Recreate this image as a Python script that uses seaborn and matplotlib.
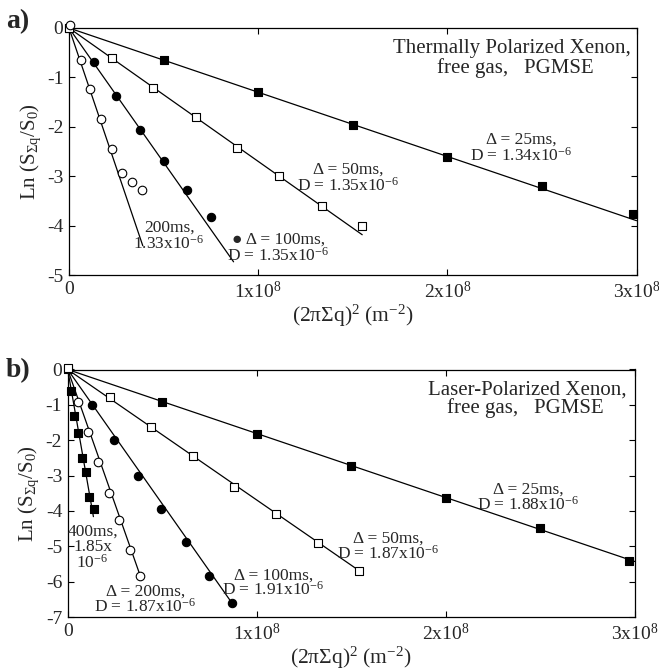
import numpy as np
import pandas as pd
import matplotlib
matplotlib.use("Agg")
import matplotlib.pyplot as plt
import seaborn as sns

# ---------------- data (x in units of 1e8 m^-2) ----------------
X_UNIT = 1e8

# Panel a : thermally polarized xenon
a_25_x = [0, 0.5, 1.0, 1.5, 2.0, 2.5, 2.98]
a_25_y = [0, -0.65, -1.30, -1.96, -2.62, -3.19, -3.76]
a_50_x = [0, 0.225, 0.445, 0.67, 0.888, 1.11, 1.335, 1.55]
a_50_y = [0, -0.60, -1.21, -1.80, -2.43, -3.00, -3.60, -4.01]
a_100_x = [0.13, 0.25, 0.375, 0.5, 0.626, 0.75]
a_100_y = [-0.69, -1.38, -2.07, -2.69, -3.28, -3.83]
a_200_x = [0.005, 0.062, 0.111, 0.168, 0.226, 0.279, 0.332, 0.385]
a_200_y = [0.06, -0.65, -1.24, -1.85, -2.44, -2.93, -3.11, -3.28]
a_fit_slope = [-1.30, -2.70, -5.44, -11.3]
a_fit_xmax = [3.0, 1.55, 0.87, 0.39]

# Panel b : laser polarized xenon
b_25_x = [0, 0.5, 1.0, 1.5, 2.0, 2.5, 2.97]
b_25_y = [0, -0.92, -1.83, -2.72, -3.64, -4.49, -5.41]
b_50_x = [0, 0.224, 0.441, 0.661, 0.881, 1.102, 1.326, 1.543]
b_50_y = [0.03, -0.785, -1.64, -2.46, -3.31, -4.10, -4.90, -5.69]
b_100_x = [0.127, 0.247, 0.372, 0.495, 0.626, 0.748, 0.868]
b_100_y = [-0.99, -2.00, -3.01, -3.95, -4.87, -5.85, -6.60]
b_200_x = [0.055, 0.106, 0.16, 0.216, 0.272, 0.331, 0.383]
b_200_y = [-0.91, -1.77, -2.63, -3.48, -4.26, -5.10, -5.83]
b_400_x = [0.016, 0.033, 0.056, 0.077, 0.097, 0.113, 0.139]
b_400_y = [-0.615, -1.32, -1.80, -2.50, -2.90, -3.60, -3.94]
b_fit_slope = [-1.81, -3.69, -7.6, -15.2, -30.6]
b_fit_xmax = [3.0, 1.543, 0.868, 0.383, 0.136]

x_tick_vals = [0, 1, 2, 3]
x_tick_labels = ["0", "1x10$^8$", "2x10$^8$", "3x10$^8$"]
a_y_ticks = [0, -1, -2, -3, -4, -5]
b_y_ticks = [0, -1, -2, -3, -4, -5, -6, -7]

# ---------------- style ----------------
sns.set_style("ticks")
SERIF = ["Liberation Serif", "DejaVu Serif"]
plt.rcParams["font.family"] = SERIF
plt.rcParams["mathtext.fontset"] = "custom"
plt.rcParams["mathtext.rm"] = "Liberation Serif"
plt.rcParams["mathtext.it"] = "Liberation Serif"
plt.rcParams["mathtext.default"] = "regular"
plt.rcParams["axes.unicode_minus"] = False

TICK_FS = 14
TXT_FS = 12.5
TITLE_FS = 15
YLAB_FS = 15
XLAB_FS = 15.5

fig = plt.figure(figsize=(6.59, 6.72), dpi=100)
W, H = 659, 672
ax_a = fig.add_axes([69 / W, 1 - 275 / H, (636.5 - 69) / W, (275 - 28) / H])
ax_b = fig.add_axes([67.7 / W, 1 - 617 / H, (634.7 - 67.7) / W, (617 - 369.5) / H])


def draw_series(ax, xs, ys, marker, filled, size):
    sns.scatterplot(x=np.array(xs) * X_UNIT, y=ys, marker=marker, s=size,
                    color="black" if filled else "white", edgecolor="black",
                    linewidth=0.8, ax=ax, clip_on=False, zorder=4, legend=False)


def draw_fit(ax, slope, xmax):
    xx = np.array([0.0, xmax]) * X_UNIT
    yy = np.array([0.0, slope * xmax])
    sns.lineplot(x=xx, y=yy, color="black", linewidth=0.9, ax=ax,
                 estimator=None, sort=False, zorder=3)


def style_axes(ax, yticks, ymin):
    ax.set_xlim(0, 3 * X_UNIT)
    ax.set_ylim(ymin, 0)
    ax.set_xticks([v * X_UNIT for v in x_tick_vals])
    ax.set_xticklabels(x_tick_labels, fontsize=TICK_FS)
    ax.set_yticks(yticks)
    ax.set_yticklabels([str(v) for v in yticks], fontsize=TICK_FS)
    ax.tick_params(direction="in", top=True, right=True, length=4,
                   width=0.8, color="black", pad=4)
    for sp in ax.spines.values():
        sp.set_visible(True)
        sp.set_color("black")
        sp.set_linewidth(0.9)
    ax.set_xlabel("(2πΣq)$^2$ (m$^{-2}$)", fontsize=XLAB_FS, labelpad=1)
    ax.set_ylabel("Ln (S$_{Σq}$/S$_0$)", fontsize=YLAB_FS, labelpad=3)


def T(ax, x, y, s, fs=TXT_FS, ha="center", ls=0.85):
    # y is the baseline of the last line
    ax.text(x * X_UNIT, y, s, fontsize=fs, va="baseline", ha=ha,
            multialignment="center", linespacing=ls)


# ---------------- panel a ----------------
for s, xm in zip(a_fit_slope, a_fit_xmax):
    draw_fit(ax_a, s, xm)
draw_series(ax_a, a_25_x, a_25_y, "s", True, 30)
draw_series(ax_a, a_50_x, a_50_y, "s", False, 34)
draw_series(ax_a, a_100_x, a_100_y, "o", True, 36)
draw_series(ax_a, a_200_x, a_200_y, "o", False, 38)
style_axes(ax_a, a_y_ticks, -5)

T(ax_a, 2.968, -0.50, "Thermally Polarized Xenon,", fs=TITLE_FS, ha="right")
T(ax_a, 2.36, -0.91, "free gas,   PGMSE", fs=TITLE_FS)
T(ax_a, 2.392, -2.685, "Δ = 25ms,\nD = 1.34x10$^{-6}$", ls=0.95)
T(ax_a, 1.476, -3.295, "Δ = 50ms,\nD = 1.35x10$^{-6}$", ls=0.95)
T(ax_a, 1.106, -4.715, "● Δ = 100ms,\nD = 1.35x10$^{-6}$", ls=0.95)
T(ax_a, 0.529, -4.475, "200ms,\n1.33x10$^{-6}$", ls=0.95)

# ---------------- panel b ----------------
for s, xm in zip(b_fit_slope, b_fit_xmax):
    draw_fit(ax_b, s, xm)
draw_series(ax_b, b_25_x, b_25_y, "s", True, 30)
draw_series(ax_b, b_50_x, b_50_y, "s", False, 34)
draw_series(ax_b, b_100_x, b_100_y, "o", True, 36)
draw_series(ax_b, b_200_x, b_200_y, "o", False, 38)
draw_series(ax_b, b_400_x, b_400_y, "s", True, 30)
style_axes(ax_b, b_y_ticks, -7)

T(ax_b, 2.958, -0.71, "Laser-Polarized Xenon,", fs=TITLE_FS, ha="right")
T(ax_b, 2.42, -1.24, "free gas,   PGMSE", fs=TITLE_FS)
T(ax_b, 2.435, -3.96, "Δ = 25ms,\nD = 1.88x10$^{-6}$", ls=0.88)
T(ax_b, 1.695, -5.35, "Δ = 50ms,\nD = 1.87x10$^{-6}$", ls=0.85)
T(ax_b, 1.089, -6.37, "Δ = 100ms,\nD = 1.91x10$^{-6}$", ls=0.82)
T(ax_b, 0.412, -6.84, "Δ = 200ms,\nD = 1.87x10$^{-6}$", ls=0.82)
T(ax_b, 0.131, -5.61, "400ms,\n1.85x\n10$^{-6}$", ls=0.95)

# panel letters
fig.text(6 / W, 1 - 22 / H, "a)", fontsize=20, fontweight="bold", va="center", ha="left")
fig.text(6 / W, 1 - 371 / H, "b)", fontsize=20, fontweight="bold", va="center", ha="left")

fig.savefig("out.png", dpi=100, facecolor="white")
